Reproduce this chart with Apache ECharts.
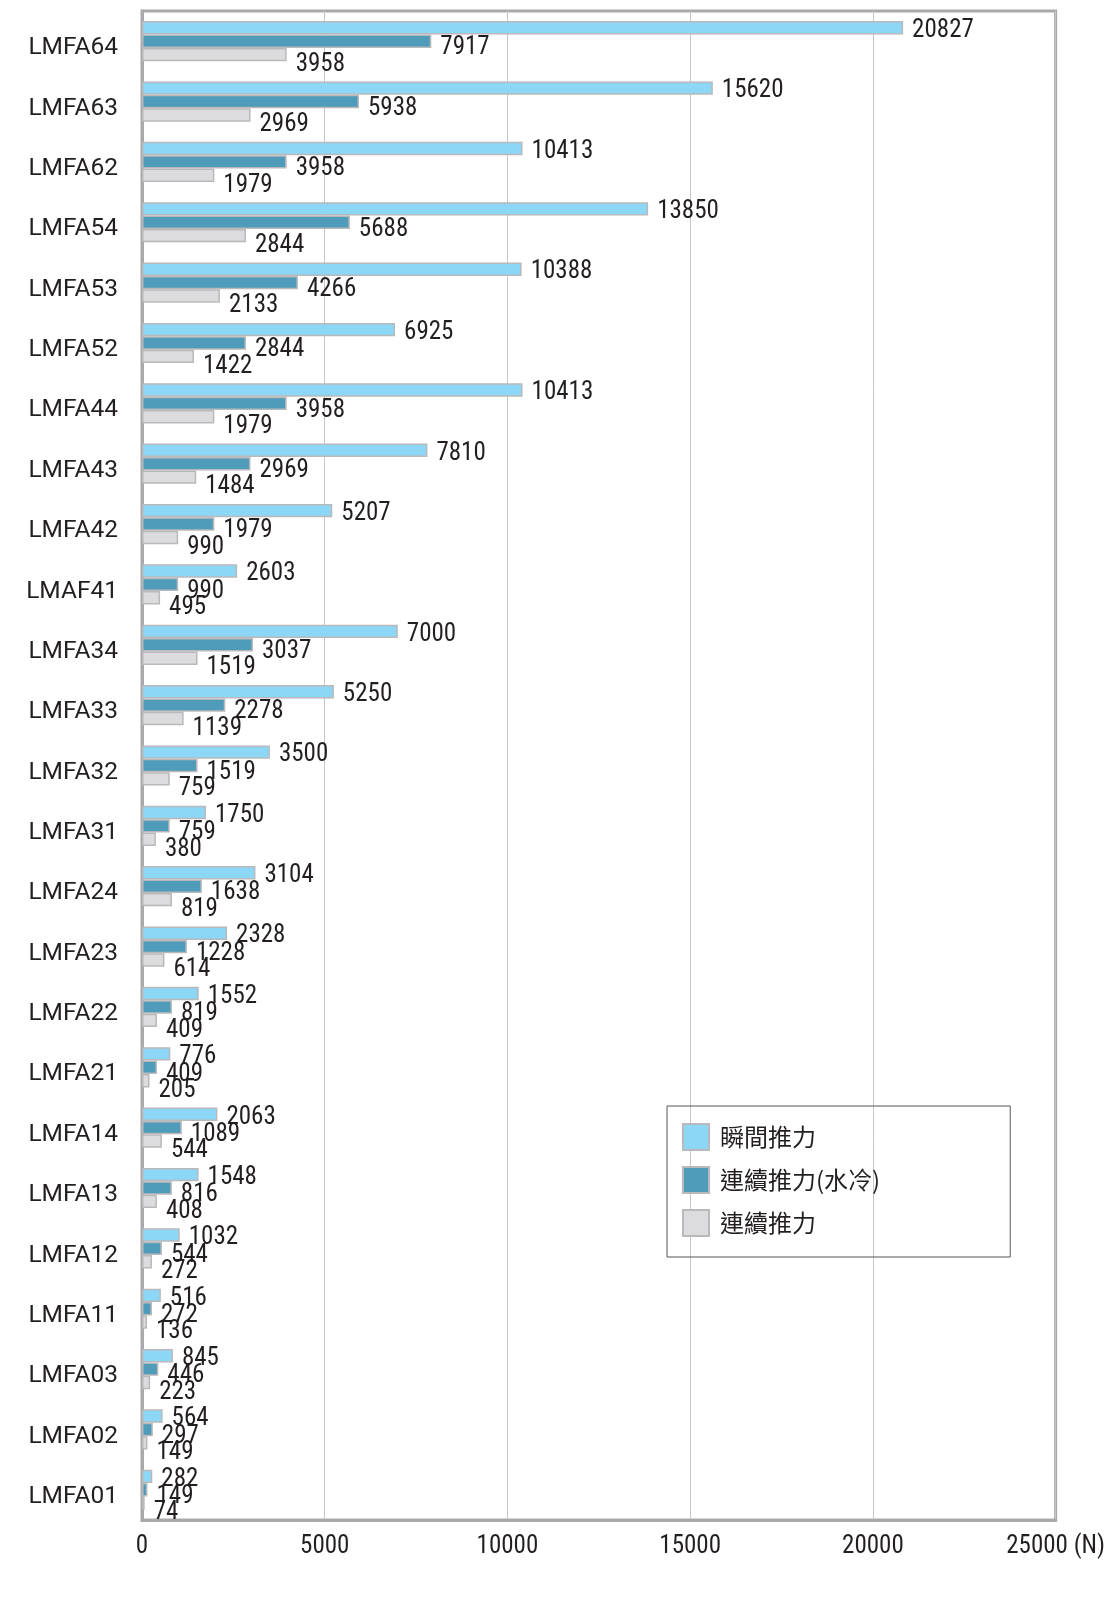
<!DOCTYPE html>
<html>
<head>
<meta charset="utf-8">
<script src="https://cdn.jsdelivr.net/npm/echarts@6/dist/echarts.min.js"></script>
<style>
html,body{margin:0;padding:0;background:#fff;}
#chart{width:1108px;height:1599px;}
</style>
</head>
<body>
<div id="chart"></div>
<script>
const categories = ['LMFA64','LMFA63','LMFA62','LMFA54','LMFA53','LMFA52','LMFA44','LMFA43','LMFA42','LMAF41','LMFA34','LMFA33','LMFA32','LMFA31','LMFA24','LMFA23','LMFA22','LMFA21','LMFA14','LMFA13','LMFA12','LMFA11','LMFA03','LMFA02','LMFA01'];
const peakForce = [20827,15620,10413,13850,10388,6925,10413,7810,5207,2603,7000,5250,3500,1750,3104,2328,1552,776,2063,1548,1032,516,845,564,282];
const contWater = [7917,5938,3958,5688,4266,2844,3958,2969,1979,990,3037,2278,1519,759,1638,1228,819,409,1089,816,544,272,446,297,149];
const contForce = [3958,2969,1979,2844,2133,1422,1979,1484,990,495,1519,1139,759,380,819,614,409,205,544,408,272,136,223,149,74];
const seriesNames = ['瞬間推力','連續推力(水冷)','連續推力'];
const xTicks = [0,5000,10000,15000,20000,25000];
const xUnit = '(N)';

const numFont = "'Liberation Sans Narrow','Roboto Condensed','DejaVu Sans Condensed',Roboto,sans-serif";
const chart = echarts.init(document.getElementById('chart'));
const colors = ['#8dd7f6','#4e9bba','#dcdcde'];
const offsets = [[0,3],[0,7],[0,10]];
const datas = [peakForce, contWater, contForce];

chart.setOption({
  animation:false,
  grid:{left:142,right:48,top:11,bottom:79,show:true,borderColor:'#a9a9ab',borderWidth:3,containLabel:false},
  legend:{
    orient:'vertical', left:667, top:1106,
    padding:[17,130,20,15],
    borderColor:'#555', borderWidth:1,
    icon:'rect',
    itemWidth:26, itemHeight:26, itemGap:15,
    textStyle:{fontFamily:"'Noto Sans CJK TC',sans-serif",fontSize:24,color:'#231f20',padding:[0,0,0,6]},
    data:seriesNames
  },
  xAxis:{
    type:'value', min:xTicks[0], max:xTicks[xTicks.length-1], interval:xTicks[1]-xTicks[0],
    axisLine:{show:true,lineStyle:{color:'#a9a9ab',width:3}},
    axisTick:{show:false},
    splitLine:{show:true,lineStyle:{color:'#c6c6c6',width:1}},
    axisLabel:{margin:14,fontFamily:numFont,fontSize:25,color:'#231f20',
      formatter:function(v){return v===xTicks[xTicks.length-1]? v+' '+xUnit : String(v);}}
  },
  yAxis:{
    type:'category', data:categories, inverse:true,
    axisLine:{show:true,lineStyle:{color:'#a9a9ab',width:3}},
    axisTick:{show:false},
    axisLabel:{margin:24,color:'#231f20',
      formatter:function(v){return '{a|'+v+'}';},
      rich:{a:{fontFamily:"Roboto,sans-serif",fontSize:24.5,color:'#231f20',padding:[14,0,0,0]}}
    }
  },
  series: seriesNames.map((n,i)=>({
    name:n, type:'bar', data:datas[i], barWidth:13.4, barGap:'0%',
    itemStyle:{color:colors[i],borderColor:'#b9b9bb',borderWidth:1.5},
    label:{show:true,position:'right',distance:9,offset:offsets[i],
      fontFamily:numFont,fontSize:25,color:'#231f20'}
  }))
});
</script>
</body>
</html>
